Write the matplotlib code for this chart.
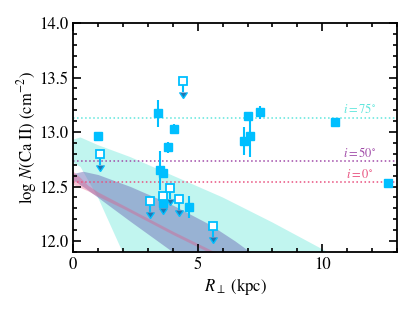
import numpy as np
import matplotlib
matplotlib.use("Agg")
import matplotlib.pyplot as plt

plt.rcParams['font.family'] = 'serif'
plt.rcParams['font.serif'] = ['STIXGeneral', 'Liberation Serif', 'DejaVu Serif']
plt.rcParams['mathtext.fontset'] = 'stix'

# detections
r_det = [1.0, 3.4, 4.05, 3.8, 3.5, 3.6, 3.6, 4.65, 6.85, 7.0, 7.1, 7.48, 10.5, 12.65]
n_det = [12.96, 13.17, 13.03, 12.86, 12.65, 12.62, 12.35, 12.31, 12.92, 13.15, 12.96, 13.18, 13.09, 12.53]
e_det = [0.03, 0.12, 0.04, 0.05, 0.18, 0.03, 0.03, 0.1, 0.13, 0.03, 0.19, 0.06, 0.01, 0.03]

# upper limits
r_lim = [1.1, 4.4, 3.1, 3.6, 3.87, 4.25, 5.6]
n_lim = [12.80, 13.47, 12.37, 12.41, 12.49, 12.39, 12.14]

# model bands
r_cyan = [0.0, 0.3, 1.0, 2.3, 4.0, 6.0, 8.0, 10.2, 10.5]
cyan_hi = [12.93, 12.95, 12.88, 12.77, 12.60, 12.40, 12.17, 11.9, 11.86]
cyan_lo = [12.72, 12.68, 12.40, 11.74, 11.0, 10.0, 9.0, 8.0, 8.0]

r_purp = [0.0, 0.4, 1.0, 2.3, 4.0, 5.5, 6.5, 7.1, 7.5]
purp_hi = [12.62, 12.64, 12.61, 12.50, 12.33, 12.15, 12.0, 11.9, 11.83]
purp_lo = [12.56, 12.50, 12.40, 12.18, 11.90, 11.65, 11.5, 11.4, 11.3]

r_pink = [0.0, 0.3, 0.6, 1.0, 2.0, 3.0, 4.0, 5.6, 6.0]
pink_hi = [12.64, 12.58, 12.51, 12.45, 12.33, 12.21, 12.09, 11.91, 11.87]
pink_lo = [12.52, 12.49, 12.46, 12.41, 12.30, 12.18, 12.06, 11.88, 11.84]

incl_labels = [r'$i=75^{\circ}$', r'$i=50^{\circ}$', r'$i=0^{\circ}$']
incl_levels = [13.13, 12.73, 12.54]
incl_colors = ['#5ee6dc', '#a04aa8', '#e8507e']

fig = plt.figure(figsize=(4.15, 3.11), dpi=100)
ax = fig.add_axes([0.176, 0.19, 0.781, 0.736])

ax.fill_between(r_cyan, cyan_lo, cyan_hi, color='#40e0d0', alpha=0.32, lw=0)
ax.fill_between(r_purp, purp_lo, purp_hi, color='#7070b8', alpha=0.5, lw=0)
ax.fill_between(r_pink, pink_lo, pink_hi, color='#e8507e', alpha=0.35, lw=0)

for lab, lev, col in zip(incl_labels, incl_levels, incl_colors):
    ax.axhline(lev, color=col, ls=':', lw=1.1)
    ax.text(11.5, lev + 0.015, lab, color=col, fontsize=9, ha='center', va='bottom')

ax.errorbar(r_det, n_det, yerr=e_det, fmt='s', color='#00bfff', ms=6,
            elinewidth=1.5, capsize=0, zorder=5)
ax.errorbar(r_lim, np.array(n_lim) - 0.005, yerr=0.1, uplims=True, fmt='none',
            ecolor='#00bfff', elinewidth=1.5, capsize=3, zorder=4)
ax.plot(r_lim, n_lim, 's', mfc='white', mec='#00bfff', mew=1.3, ms=6, ls='none', zorder=6)

ax.set_xlim(0, 13)
ax.set_ylim(11.9, 14.0)
ax.set_xticks([0, 5, 10])
ax.set_xticks(np.arange(0, 13.1, 1), minor=True)
ax.set_yticks([12.0, 12.5, 13.0, 13.5, 14.0])
ax.set_yticks(np.arange(11.9, 14.01, 0.1), minor=True)
ax.tick_params(which='both', direction='in', top=True, right=True, labelsize=12, width=1.2)
ax.tick_params(which='major', length=6)
ax.tick_params(which='minor', length=3)
for s in ax.spines.values():
    s.set_linewidth(1.3)

ax.set_xlabel(r'$R_\perp$ (kpc)', fontsize=12, labelpad=2)
ax.set_ylabel(r'log $N$(Ca II) (cm$^{-2}$)', fontsize=12, labelpad=0)

fig.savefig('out.png', dpi=100)
